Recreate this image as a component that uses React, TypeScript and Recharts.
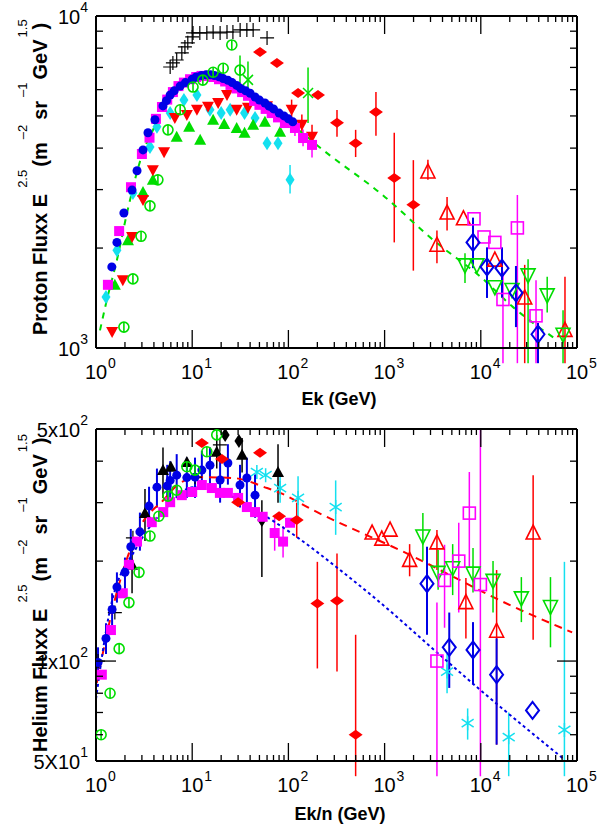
import React from 'react';
import { ComposedChart, Scatter, Line, XAxis, YAxis, ErrorBar } from 'recharts';

const FONT = '"Liberation Sans", Arial, Helvetica, sans-serif';

const RED = '#ff0000';
const GREEN = '#00dd00';
const BLUE = '#0000e6';
const MAGENTA = '#ff00ff';
const CYAN = '#14e0ef';
const BLACK = '#000000';

// axis ticks (log decades with minor ticks)
const xTicks = [1, 2, 3, 4, 5, 6, 7, 8, 9, 10, 20, 30, 40, 50, 60, 70, 80, 90, 100, 200, 300, 400, 500, 600, 700, 800, 900,
  1000, 2000, 3000, 4000, 5000, 6000, 7000, 8000, 9000, 10000, 20000, 30000, 40000, 50000, 60000, 70000, 80000, 90000, 100000];
const pYTicks = [1000, 2000, 3000, 4000, 5000, 6000, 7000, 8000, 9000, 10000];
const hYTicks = [50, 60, 70, 80, 90, 100, 200, 300, 400, 500];
const pYLabels: Record<number, string[]> = { 1000: ['10', '3'], 10000: ['10', '4'] };
const hYLabels: Record<number, string[]> = { 50: ['5X10', '1'], 100: ['1x10', '2'], 500: ['5x10', '2'] };

// ---- proton data: [Ek, flux, errLow, errHigh]
const pBlackPlus = [[5.9, 7020], [6.3, 7220], [6.9, 7370], [7.8, 7740], [8.4, 8070], [9.0, 8300], [10, 8650], [10.2, 8890],
  [12, 8890], [14.2, 8890], [16.5, 8950], [19.5, 8890], [23, 8950], [26.5, 8950], [31.5, 9080], [37, 9080], [43, 9080], [60, 8590]];
const pCyanDiamond = [[1.27, 1425], [1.65, 1970], [2.42, 2930], [3.64, 4030], [4.3, 4640], [5.9, 5100], [8.2, 5580], [11.2, 5780],
  [15.3, 5220], [20, 5100], [24.8, 5220], [35, 5100], [45, 4930], [60, 4140], [78, 4140], [104, 3210, 2920, 3560]];
const pGreenTriUp = [[1.57, 1550], [2.15, 2110], [3.08, 2950], [3.9, 3210], [6.9, 4330], [9.3, 4640], [12.1, 4240], [16.5, 4870],
  [21.5, 4730], [29, 4600], [35, 4450], [43, 4700], [57, 4800], [82, 4480]];
const pRedTriDown = [[1.47, 1117], [1.9, 1600], [2.37, 2160], [3.08, 2790], [3.9, 3430], [5.1, 3890], [6.6, 4930], [8.8, 5030],
  [11.2, 5220], [14.6, 5330], [18.6, 5470], [23, 5780], [29, 5220], [38, 5290], [60, 5350], [108, 5220, 4950, 5600], [138, 4700, 4450, 5050], [176, 4330, 4100, 4700]];
const pMagentaSq = [[1.33, 1550], [1.74, 2250], [2.31, 3050], [3.0, 3840], [3.6, 4300], [4.2, 4900], [4.85, 5320], [5.5, 5600],
  [6.3, 5900], [7.2, 6150], [8.2, 6300], [9.5, 6450], [11, 6550], [12.5, 6600], [14.5, 6600], [16.5, 6550], [19, 6450], [22, 6350],
  [25, 6200], [29, 6050], [33, 5900], [38, 5750], [44, 5550], [50, 5400], [58, 5250], [67, 5100], [78, 4950], [92, 4760],
  [117, 4600, 4350, 4900], [142, 4290, 4050, 4550], [176, 4090, 3750, 4400]];
const pBlueDot = [[1.46, 1755], [1.65, 2080], [1.95, 2550], [2.37, 2990], [2.67, 3420], [3.08, 3950], [3.47, 4450], [4.1, 4870],
  [4.97, 5360], [5.4, 5560], [5.9, 5780], [6.5, 5950], [7.5, 6150], [8.5, 6300], [10, 6450], [11, 6550], [12.5, 6620], [14, 6650],
  [15.5, 6650], [17, 6620], [19, 6560], [21, 6480], [23.5, 6400], [26, 6300], [29, 6180], [32, 6050], [36, 5950], [40, 5850],
  [45, 5700], [50, 5580], [57, 5470], [63, 5350], [70, 5250], [80, 5100], [90, 5000], [100, 4900], [111, 4800]];
const pGreenCircle = [[1.95, 1156], [2.42, 1615], [2.94, 2170], [3.64, 2680], [4.4, 3210], [5.6, 4540], [7.5, 5220], [10.2, 6110],
  [12.9, 6410], [16.5, 6770], [21, 6960], [25.8, 8180], [31.4, 6870, 6000, 7600]];
const pRedDiamond = [[50.7, 7790], [76, 7220], [126, 5860], [203, 5780], [320, 4770, 4330, 5210], [500, 4140, 3760, 4540],
  [813, 5140, 4360, 5900], [1260, 3250, 2080, 4450], [1990, 2700, 1710, 3680]];
const pGreenX = [[38, 6420, 5700, 7300], [160, 5860, 4760, 7000]];
const pRedOpenTri = [[2820, 3390, 3210, 3690], [3500, 2040, 1800, 2260], [4460, 2550, 2260, 2850], [6600, 2450],
  [14000, 1840], [28600, 1415, 900, 1780], [75000, 1130, 900, 1640]];
const pMagentaOpenSq = [[8500, 2450], [10800, 2160], [14000, 2080], [17000, 1400, 900, 1700], [24000, 2300, 900, 2890],
  [37500, 1250, 900, 1600]];
const pBlueOpenDia = [[8300, 2080, 1740, 2470], [11600, 1755, 1415, 2010], [16600, 1740, 1420, 2010], [23200, 1466, 1156, 1766],
  [39300, 1100, 900, 1190]];
const pGreenOpenTriD = [[6850, 1780, 1570, 1930], [9100, 1780], [14000, 1530], [21100, 1500], [31000, 1660, 900, 1850],
  [49000, 1445, 1280, 1640], [71600, 1100, 900, 1300]];
const pModel = [[1.1, 1130], [1.3, 1400], [1.65, 1840], [2.1, 2550], [3, 3800], [4, 4600], [5, 5250], [7, 5950], [10, 6400],
  [15, 6650], [20, 6600], [30, 6250], [50, 5600], [100, 4800], [250, 3870], [900, 2930], [3500, 2070], [9900, 1640],
  [21500, 1330], [62000, 1057]];

// ---- helium data: [Ek/n, flux, errLow, errHigh]
const hBlackTri = [[2.37, 195, 160, 230], [3.23, 279, 230, 330], [4.97, 376, 310, 440], [6.0, 385], [8.8, 398],
  [18, 427, 380, 480], [33, 418, 370, 470], [78, 371, 300, 450]];
const hBlackDia = [[22, 480], [30.6, 460], [53, 266, 179, 305]];
const hBlackPlus = [[1.05, 100], [1.57, 140], [2.42, 235], [10.7, 358], [19.4, 448]];
const hMagentaSq = [[1.15, 91], [1.43, 124], [1.9, 160], [2.2, 195], [2.67, 229], [3.8, 262], [5.0, 281], [5.9, 301],
  [7.8, 316], [10, 323], [12.6, 339], [16, 332], [19.4, 321], [23.5, 321], [30, 310], [37, 291], [45, 281], [54, 272],
  [72, 243, 215, 270], [88, 229, 205, 255], [104, 261]];
const hBlueDot = [[1.05, 99, 90, 110], [1.27, 117, 105, 130], [1.47, 143, 128, 160], [1.65, 167, 150, 185], [2.0, 185, 165, 205],
  [2.3, 221, 195, 250], [2.86, 245, 215, 280], [3.56, 293, 255, 335], [4.3, 334, 290, 380], [5.5, 337, 290, 390],
  [5.9, 350, 300, 400], [6.9, 363, 310, 420], [8.8, 357, 310, 410], [10.7, 358, 310, 410], [12.6, 376, 330, 430],
  [15.3, 389, 340, 440], [19.5, 351, 300, 400], [23.5, 395, 340, 450], [31.4, 339, 290, 390], [37, 356, 300, 410],
  [45, 316, 270, 365]];
const hGreenCircle = [[1.13, 60], [1.4, 80], [1.74, 109], [2.2, 150], [2.8, 185], [3.64, 238], [4.5, 273], [5.6, 314],
  [6.9, 327], [8.8, 385], [10.7, 376], [14.2, 427], [18, 480]];
const hRedDia = [[12.6, 454], [20.4, 406], [30, 301], [50.7, 424], [80, 273], [122, 266, 235, 300], [200, 149, 95, 199],
  [320, 152, 93, 211], [500, 60, 45, 120]];
const hCyanStar = [[47, 371], [58, 363], [82, 332, 300, 370], [126, 310, 270, 360], [310, 291, 240, 350], [4460, 93, 80, 105],
  [7300, 65, 58, 72], [19500, 59, 45, 70], [74000, 62, 45, 199]];
const hRedOpenTri = [[741, 243], [935, 233], [1140, 248], [1820, 201, 180, 225], [3500, 227, 188, 248], [7000, 150, 117, 178],
  [14600, 123, 56, 188], [35000, 243, 116, 363]];
const hGreenOpenTriD = [[2500, 238, 201, 279], [3600, 185, 164, 216], [5100, 191, 158, 225], [8300, 184, 161, 219],
  [13400, 175, 140, 200], [26400, 155, 131, 179], [53000, 146, 110, 179]];
const hMagentaOpenSq = [[3500, 100, 45, 150], [4200, 175, 126, 224], [5900, 200, 140, 261], [7600, 279, 192, 371],
  [9900, 170, 45, 500]];
const hBlueOpenDia = [[2760, 171, 120, 221], [4700, 110, 83, 140], [8300, 108, 85, 131], [14600, 91, 56, 117], [34500, 71]];
const hModelRed = [[1.02, 86], [1.57, 153], [2.86, 253], [5, 305], [7.5, 344], [12, 358], [26.5, 356], [60, 332], [82, 321],
  [180, 285], [1700, 211], [21600, 146], [89000, 122]];
const hModelBlue = [[1, 77], [1.4, 143], [2.67, 221], [5.5, 291], [10.2, 334], [18, 327], [40, 291], [126, 235], [345, 188],
  [830, 153], [3800, 104], [9800, 82], [71000, 51]];

const toPts = (arr: number[][]) =>
  arr.map(([x, y, lo, hi]) => ({ x, y, err: lo === undefined ? [0, 0] : [y - lo, hi - y] }));

const isDecade = (v: number) => Math.abs(Math.log10(v) - Math.round(Math.log10(v))) < 1e-6;

function marker(kind: string, c: string) {
  return (p: any) => {
    const { cx, cy } = p;
    if (!Number.isFinite(cx) || !Number.isFinite(cy)) return <g />;
    const o = { stroke: c, strokeWidth: 1.6, fill: 'none' };
    switch (kind) {
      case 'plus':
        return <path d={`M${cx - 7},${cy}h14M${cx},${cy - 7}v14`} stroke={c} strokeWidth={1.2} />;
      case 'dot':
        return <circle cx={cx} cy={cy} r={4.5} fill={c} />;
      case 'sq':
        return <rect x={cx - 5} y={cy - 5} width={10} height={10} fill={c} />;
      case 'diaW':
        return <path d={`M${cx - 7},${cy}L${cx},${cy - 5}L${cx + 7},${cy}L${cx},${cy + 5}Z`} fill={c} />;
      case 'diaT':
        return <path d={`M${cx - 4.5},${cy}L${cx},${cy - 7}L${cx + 4.5},${cy}L${cx},${cy + 7}Z`} fill={c} />;
      case 'triD':
        return <path d={`M${cx - 6},${cy - 5}L${cx + 6},${cy - 5}L${cx},${cy + 6}Z`} fill={c} />;
      case 'triU':
        return <path d={`M${cx - 6},${cy + 5}L${cx + 6},${cy + 5}L${cx},${cy - 6}Z`} fill={c} />;
      case 'circBar':
        return (
          <g {...o}>
            <circle cx={cx} cy={cy} r={5} />
            <path d={`M${cx},${cy - 5}v10`} />
          </g>
        );
      case 'oTriU':
        return <path d={`M${cx - 7},${cy + 6}L${cx + 7},${cy + 6}L${cx},${cy - 8}Z`} {...o} />;
      case 'oTriD':
        return <path d={`M${cx - 7},${cy - 6}L${cx + 7},${cy - 6}L${cx},${cy + 8}Z`} {...o} />;
      case 'oSq':
        return <rect x={cx - 6} y={cy - 6} width={12} height={12} {...o} />;
      case 'oDia':
        return <path d={`M${cx - 6.5},${cy}L${cx},${cy - 8.5}L${cx + 6.5},${cy}L${cx},${cy + 8.5}Z`} {...o} strokeWidth={2} />;
      case 'star':
        return (
          <path d={`M${cx},${cy - 7}v14M${cx - 6},${cy - 4}L${cx + 6},${cy + 4}M${cx - 6},${cy + 4}L${cx + 6},${cy - 4}`}
            stroke={c} strokeWidth={1.5} />
        );
      case 'xcross':
        return <path d={`M${cx - 5},${cy - 5}L${cx + 5},${cy + 5}M${cx - 5},${cy + 5}L${cx + 5},${cy - 5}`} stroke={c} strokeWidth={1.5} />;
    }
    return <g />;
  };
}

type Layer =
  | { type: 'pts'; data: number[][]; shape: string; color: string; errW?: number }
  | { type: 'line'; data: number[][]; color: string; dash: string };

const protonLayers: Layer[] = [
  { type: 'pts', data: pBlackPlus, shape: 'plus', color: BLACK },
  { type: 'pts', data: pCyanDiamond, shape: 'diaT', color: CYAN },
  { type: 'pts', data: pGreenTriUp, shape: 'triU', color: GREEN },
  { type: 'pts', data: pRedTriDown, shape: 'triD', color: RED },
  { type: 'pts', data: pMagentaSq, shape: 'sq', color: MAGENTA },
  { type: 'pts', data: pBlueDot, shape: 'dot', color: BLUE },
  { type: 'pts', data: pGreenCircle, shape: 'circBar', color: GREEN },
  { type: 'pts', data: pRedDiamond, shape: 'diaW', color: RED },
  { type: 'pts', data: pGreenX, shape: 'xcross', color: GREEN },
  { type: 'line', data: pModel, color: GREEN, dash: '6 6' },
  { type: 'pts', data: pRedOpenTri, shape: 'oTriU', color: RED },
  { type: 'pts', data: pMagentaOpenSq, shape: 'oSq', color: MAGENTA },
  { type: 'pts', data: pGreenOpenTriD, shape: 'oTriD', color: GREEN },
  { type: 'pts', data: pBlueOpenDia, shape: 'oDia', color: BLUE, errW: 2 },
];

const heliumLayers: Layer[] = [
  { type: 'pts', data: hBlackPlus, shape: 'plus', color: BLACK },
  { type: 'pts', data: hBlackTri, shape: 'triU', color: BLACK },
  { type: 'pts', data: hBlackDia, shape: 'diaT', color: BLACK },
  { type: 'pts', data: hMagentaSq, shape: 'sq', color: MAGENTA },
  { type: 'pts', data: hBlueDot, shape: 'dot', color: BLUE, errW: 2 },
  { type: 'pts', data: hGreenCircle, shape: 'circBar', color: GREEN },
  { type: 'pts', data: hRedDia, shape: 'diaW', color: RED },
  { type: 'pts', data: hCyanStar, shape: 'star', color: CYAN },
  { type: 'line', data: hModelRed, color: RED, dash: '8 6' },
  { type: 'line', data: hModelBlue, color: BLUE, dash: '3 3' },
  { type: 'pts', data: hRedOpenTri, shape: 'oTriU', color: RED },
  { type: 'pts', data: hGreenOpenTriD, shape: 'oTriD', color: GREEN },
  { type: 'pts', data: hMagentaOpenSq, shape: 'oSq', color: MAGENTA },
  { type: 'pts', data: hBlueOpenDia, shape: 'oDia', color: BLUE, errW: 2 },
];

const AXIS_LINE = { stroke: '#000', strokeWidth: 2 };

function BottomTick(p: any) {
  const { x, y, payload } = p;
  const v = payload.value;
  const major = isDecade(v);
  return (
    <g>
      <line x1={x} x2={x} y1={y} y2={y - (major ? 18 : 6)} stroke="#000" strokeWidth={1.3} />
      {major && (
        <g fontFamily={FONT} fill="#000">
          <text x={x} y={y + 31} textAnchor="middle" fontSize={20}>10</text>
          <text x={x + 12} y={y + 20} fontSize={14}>{Math.round(Math.log10(v))}</text>
        </g>
      )}
    </g>
  );
}

function TopTick(p: any) {
  const { x, y, payload } = p;
  const major = isDecade(payload.value);
  return <line x1={x} x2={x} y1={y} y2={y + (major ? 18 : 6)} stroke="#000" strokeWidth={1.3} />;
}

function makeLeftTick(labels: Record<number, string[]>) {
  return (p: any) => {
    const { x, y, payload } = p;
    const v = payload.value;
    const lab = labels[v];
    const len = v === 100 ? 20 : 7;
    return (
      <g>
        <line x1={x} x2={x + len} y1={y} y2={y} stroke="#000" strokeWidth={1.3} />
        {lab && (
          <text x={x - 8} y={y + 8} textAnchor="end" fontSize={20} fontFamily={FONT} fill="#000">
            {lab[0]}
            <tspan dy={-12} fontSize={14}>{lab[1]}</tspan>
          </text>
        )}
      </g>
    );
  };
}

function RightTick(p: any) {
  const { x, y, payload } = p;
  const len = payload.value === 100 ? 20 : 7;
  return <line x1={x} x2={x - len} y1={y} y2={y} stroke="#000" strokeWidth={1.3} />;
}

function Panel({ height, top, bottom, yDomain, yTicks, yLabels, layers }: {
  height: number; top: number; bottom: number; yDomain: number[]; yTicks: number[];
  yLabels: Record<number, string[]>; layers: Layer[];
}) {
  return (
    <ComposedChart width={599} height={height} margin={{ top: 0, right: 0, bottom: 0, left: 0 }}>
      <XAxis xAxisId="b" dataKey="x" type="number" scale="log" domain={[1, 100000]} allowDataOverflow
        ticks={xTicks} interval={0} tickSize={0} tickMargin={0} tickLine={false} axisLine={AXIS_LINE}
        height={bottom} tick={BottomTick} />
      <XAxis xAxisId="t" orientation="top" dataKey="x" type="number" scale="log" domain={[1, 100000]} allowDataOverflow
        ticks={xTicks} interval={0} tickSize={0} tickMargin={0} tickLine={false} axisLine={AXIS_LINE}
        height={top} tick={TopTick} />
      <YAxis yAxisId="l" dataKey="y" type="number" scale="log" domain={yDomain} allowDataOverflow
        ticks={yTicks} interval={0} tickSize={0} tickMargin={0} tickLine={false} axisLine={AXIS_LINE}
        width={96} tick={makeLeftTick(yLabels)} />
      <YAxis yAxisId="r" orientation="right" dataKey="y" type="number" scale="log" domain={yDomain} allowDataOverflow
        ticks={yTicks} interval={0} tickSize={0} tickMargin={0} tickLine={false} axisLine={AXIS_LINE}
        width={22} tick={RightTick} />
      {layers.map((l, i) =>
        l.type === 'line' ? (
          <Line key={i} xAxisId="b" yAxisId="l" data={l.data.map(([x, y]) => ({ x, y }))} dataKey="y" type="monotone"
            dot={false} activeDot={false} stroke={l.color} strokeWidth={2} strokeDasharray={l.dash}
            isAnimationActive={false} />
        ) : (
          <Scatter key={i} xAxisId="b" yAxisId="l" data={toPts(l.data)} shape={marker(l.shape, l.color)}
            isAnimationActive={false}>
            {l.data.some((d) => d.length > 2) && (
              <ErrorBar dataKey="err" direction="y" width={0} stroke={l.color}
                strokeWidth={l.errW || 1.5} isAnimationActive={false} />
            )}
          </Scatter>
        )
      )}
    </ComposedChart>
  );
}

// rotated axis title with gnuplot-style superscripts
function YTitle({ x, y, name }: { x: number; y: number; name: string }) {
  const sup = { fontSize: 13, fontWeight: 'normal' as const };
  return (
    <text transform={`translate(${x},${y}) rotate(-90)`} fontFamily={FONT} fontWeight="bold" fontSize={20} fill="#000">
      {name} E
      <tspan dx={6} dy={-20} {...sup}>2.5</tspan>
      <tspan dx={3} dy={20}>(m</tspan>
      <tspan dx={3} dy={-20} {...sup}>–2</tspan>
      <tspan dx={5} dy={20}>sr</tspan>
      <tspan dx={4} dy={-20} {...sup}>–1</tspan>
      <tspan dx={3} dy={20}>GeV</tspan>
      <tspan dx={2} dy={-20} {...sup}>1.5</tspan>
      <tspan dx={-10} dy={20}>)</tspan>
    </text>
  );
}

export default function App() {
  return (
    <div style={{ position: 'absolute', left: 0, top: 0, width: 599, height: 824, background: '#fff' }}>
      <div style={{ position: 'absolute', left: 0, top: 0 }}>
        <Panel height={410} top={16} bottom={62} yDomain={[1000, 10000]} yTicks={pYTicks} yLabels={pYLabels}
          layers={protonLayers} />
      </div>
      <div style={{ position: 'absolute', left: 0, top: 410 }}>
        <Panel height={414} top={19} bottom={63} yDomain={[50, 500]} yTicks={hYTicks} yLabels={hYLabels}
          layers={heliumLayers} />
      </div>
      <svg width={599} height={824} style={{ position: 'absolute', left: 0, top: 0, pointerEvents: 'none' }}>
        <YTitle x={47} y={335} name="Proton Fluxx" />
        <YTitle x={47} y={752} name="Helium Fluxx" />
        <text x={339} y={405} textAnchor="middle" fontFamily={FONT} fontWeight="bold" fontSize={18}>Ek (GeV)</text>
        <text x={340} y={820} textAnchor="middle" fontFamily={FONT} fontWeight="bold" fontSize={18}>Ek/n (GeV)</text>
      </svg>
    </div>
  );
}
